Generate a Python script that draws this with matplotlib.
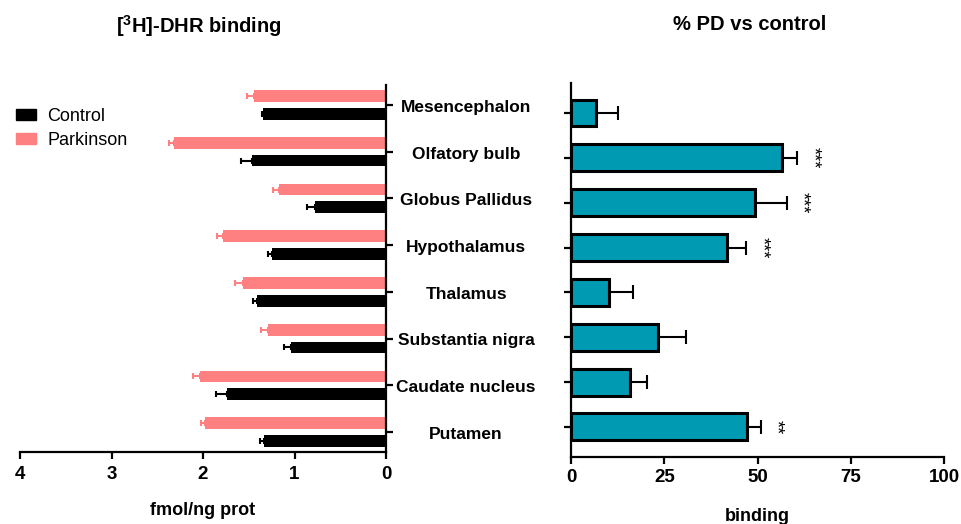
import numpy as np
import matplotlib.pyplot as plt
from matplotlib.patches import Patch
from matplotlib.transforms import blended_transform_factory

plt.rcParams['font.family'] = ['Liberation Sans', 'DejaVu Sans']
plt.rcParams['mathtext.fontset'] = 'custom'
plt.rcParams['mathtext.rm'] = 'Liberation Sans:bold'
plt.rcParams['mathtext.default'] = 'rm'

regions = ['Mesencephalon', 'Olfatory bulb', 'Globus Pallidus', 'Hypothalamus',
           'Thalamus', 'Substantia nigra', 'Caudate nucleus', 'Putamen']

# [3H]-DHR binding, fmol/ng prot (mean, sem)
control = [1.34, 1.47, 0.78, 1.25, 1.41, 1.04, 1.74, 1.33]
control_err = [0.02, 0.11, 0.08, 0.04, 0.04, 0.07, 0.12, 0.05]
parkinson = [1.44, 2.32, 1.17, 1.78, 1.56, 1.29, 2.03, 1.98]
parkinson_err = [0.08, 0.05, 0.06, 0.07, 0.09, 0.08, 0.08, 0.04]

# % PD vs control
pd_change = [6.7, 56.7, 49.2, 41.7, 10.2, 23.3, 15.8, 47.3]
pd_change_err = [5.9, 4.0, 8.6, 5.3, 6.4, 7.6, 4.7, 3.7]
signif = ['', '***', '***', '***', '', '', '', '**']

pink = '#ff8080'
teal = '#009ab3'

fig = plt.figure(figsize=(9.61, 5.24), dpi=100)
axL = fig.add_axes([0.0208, 0.1374, 0.3809, 0.7004])
axR = fig.add_axes([0.5942, 0.1279, 0.3881, 0.7137])

y = np.arange(len(regions))
zeros = np.zeros(len(regions))

# left: grouped horizontal bars, x axis reversed
h = 0.25
off = 0.19
axL.barh(y - off, parkinson, height=h, color=pink, xerr=[zeros, parkinson_err],
         error_kw=dict(ecolor=pink, elinewidth=1.5, capsize=2, capthick=1.5))
axL.barh(y + off, control, height=h, color='black', xerr=[zeros, control_err],
         error_kw=dict(ecolor='black', elinewidth=1.5, capsize=2, capthick=1.5))
axL.set_xlim(4, 0)
axL.set_ylim(7.43, -0.43)
axL.set_xticks([4, 3, 2, 1, 0])
axL.yaxis.tick_right()
axL.set_yticks(y)
axL.set_yticklabels([])
axL.spines['left'].set_visible(False)
axL.spines['top'].set_visible(False)
for s in ['right', 'bottom']:
    axL.spines[s].set_linewidth(1.6)
axL.tick_params(width=1.6, length=5, labelsize=13.5)
axL.tick_params(axis='x', pad=5)
for t in axL.get_xticklabels():
    t.set_fontweight('bold')
axL.set_xlabel('fmol/ng prot', fontsize=13, fontweight='bold', labelpad=14)
axL.legend(handles=[Patch(color='black', label='Control'),
                    Patch(color=pink, label='Parkinson')],
           loc='upper left', bbox_to_anchor=(-0.01, 0.938), frameon=False,
           borderaxespad=0, borderpad=0,
           fontsize=13, handlelength=1.1, handleheight=0.6, handletextpad=0.6,
           labelspacing=0.4)
axL.set_title('[$^3$H]-DHR binding', fontsize=14.5, fontweight='bold',
              x=0.49, y=1.12)

# region names sit between the two panels
tr = blended_transform_factory(fig.transFigure, axL.transData)
for yi, name in zip(y, regions):
    axL.text(0.485, yi + 0.05, name, transform=tr, ha='center', va='center',
             fontsize=12.5, fontweight='bold')

# right: percentage change
axR.barh(y, pd_change, height=0.6, color=teal, edgecolor='black', linewidth=2.2,
         xerr=[zeros, pd_change_err],
         error_kw=dict(ecolor='black', elinewidth=1.5, capsize=5, capthick=1.5))
for yi, v, e, s in zip(y, pd_change, pd_change_err, signif):
    if s:
        axR.text(v + e + 4, yi, s, rotation=-90, ha='center', va='center',
                 fontsize=13)
axR.set_xlim(0, 100)
axR.set_ylim(7.67, -0.67)
axR.set_xticks([0, 25, 50, 75, 100])
axR.set_yticks(y)
axR.set_yticklabels([])
axR.spines['right'].set_visible(False)
axR.spines['top'].set_visible(False)
for s in ['left', 'bottom']:
    axR.spines[s].set_linewidth(1.6)
axR.tick_params(width=1.6, length=5, labelsize=13.5)
for t in axR.get_xticklabels():
    t.set_fontweight('bold')
axR.set_xlabel('binding', fontsize=13, fontweight='bold', labelpad=16)
axR.set_title('% PD vs control', fontsize=14.5, fontweight='bold',
              x=0.48, y=1.12)

fig.savefig('out.png', dpi=100)
